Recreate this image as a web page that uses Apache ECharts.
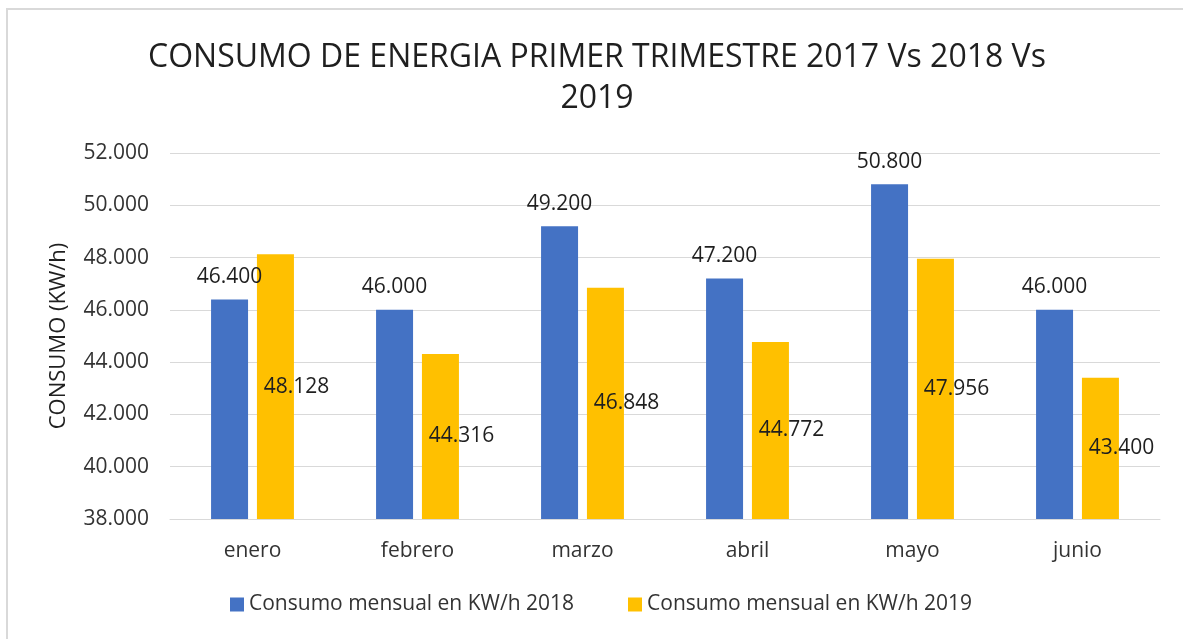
<!DOCTYPE html>
<html>
<head>
<meta charset="utf-8">
<title>Consumo de energia</title>
<script src="https://cdn.jsdelivr.net/npm/echarts@6/dist/echarts.min.js"></script>
<style>
    html, body { margin: 0; padding: 0; background: #fff; }
    #main { width: 1183px; height: 639px; }
</style>
</head>
<body>
<div id="main"></div>
<script>
// meses
const meses = ["enero", "febrero", "marzo", "abril", "mayo", "junio"];
// consumo mensual KW/h
const consumo2018 = [46400, 46000, 49200, 47200, 50800, 46000];
const consumo2019 = [48128, 44316, 46848, 44772, 47956, 43400];
// eje Y
const yMin = 38000;
const yMax = 52000;
const yStep = 2000;

const serie2018 = "Consumo mensual en KW/h 2018";
const serie2019 = "Consumo mensual en KW/h 2019";

const fuente = "'Open Sans', sans-serif";

// formato 46400 -> 46.400
function miles(v) {
    return (v / 1000).toFixed(3);
}

let myChart = echarts.init(document.getElementById("main"), null, { renderer: "canvas" });

let option = {
    backgroundColor: "#ffffff",
    textStyle: { fontFamily: fuente },
    title: {
        text: "CONSUMO DE ENERGIA PRIMER TRIMESTRE 2017 Vs 2018 Vs\n2019",
        left: 597,
        top: 37,
        padding: 0,
        textAlign: "center",
        textStyle: {
            fontFamily: fuente,
            fontSize: 32,
            fontWeight: "normal",
            lineHeight: 41,
            color: "#1f1f1f",
        },
    },
    legend: {
        data: [serie2018, serie2019],
        left: 230,
        top: 594,
        padding: 0,
        icon: "rect",
        itemWidth: 14,
        itemHeight: 14,
        itemGap: 54,
        textStyle: {
            fontFamily: fuente,
            fontSize: 21,
            color: "#333333",
        },
    },
    grid: {
        left: 170,
        right: 23,
        top: 153,
        bottom: 120,
    },
    xAxis: {
        type: "category",
        data: meses,
        axisLine: { lineStyle: { color: "#d9d9d9", width: 1 } },
        axisTick: { show: false },
        axisLabel: {
            margin: 22,
            fontFamily: fuente,
            fontSize: 21,
            color: "#333333",
        },
    },
    yAxis: {
        type: "value",
        min: yMin,
        max: yMax,
        interval: yStep,
        name: "CONSUMO (KW/h)",
        nameLocation: "middle",
        nameGap: 100,
        nameTextStyle: {
            fontFamily: fuente,
            fontSize: 22,
            color: "#1f1f1f",
        },
        axisLine: { show: false },
        axisTick: { show: false },
        splitLine: { lineStyle: { color: "#d9d9d9", width: 1 } },
        axisLabel: {
            margin: 21,
            fontFamily: fuente,
            fontSize: 21,
            color: "#333333",
            formatter: miles,
        },
    },
    series: [
        {
            name: serie2018,
            type: "bar",
            data: consumo2018,
            barWidth: 37,
            barGap: "24%",
            itemStyle: { color: "#4472C4" },
            label: {
                show: true,
                position: "top",
                distance: 12,
                fontFamily: fuente,
                fontSize: 21,
                color: "#1f1f1f",
                formatter: (p) => miles(p.value),
            },
        },
        {
            name: serie2019,
            type: "bar",
            data: consumo2019,
            barWidth: 37,
            itemStyle: { color: "#FFC000" },
            label: {
                show: true,
                position: "inside",
                offset: [21, 0],
                fontFamily: fuente,
                fontSize: 21,
                color: "#1f1f1f",
                formatter: (p) => miles(p.value),
            },
        },
    ],
    graphic: [
        {
            type: "rect",
            shape: { x: 7, y: 9, width: 1200, height: 660 },
            style: { fill: "none", stroke: "#d9d9d9", lineWidth: 2 },
            silent: true,
        },
    ],
};

myChart.setOption(option);
</script>
</body>
</html>
